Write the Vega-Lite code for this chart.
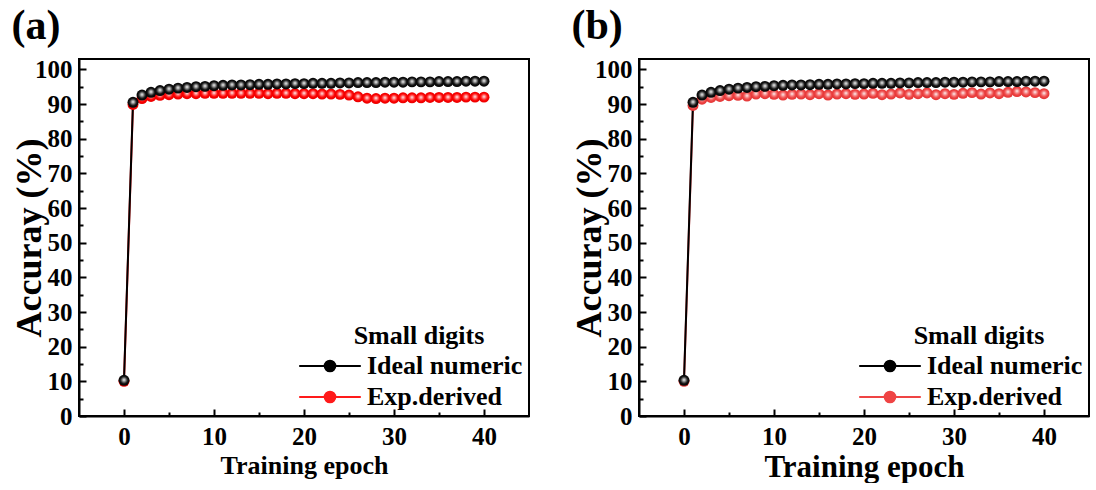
{
  "$schema": "https://vega.github.io/schema/vega-lite/v6.json",
  "background": "white",
  "padding": {"left": 10, "top": 4, "right": 0, "bottom": 0},
  "spacing": 40,
  "datasets": {
    "a": [
      {"epoch": 0, "series": "Exp.derived", "acc": 10.0},
      {"epoch": 1, "series": "Exp.derived", "acc": 89.9},
      {"epoch": 2, "series": "Exp.derived", "acc": 91.6},
      {"epoch": 3, "series": "Exp.derived", "acc": 92.2},
      {"epoch": 4, "series": "Exp.derived", "acc": 92.5},
      {"epoch": 5, "series": "Exp.derived", "acc": 92.7},
      {"epoch": 6, "series": "Exp.derived", "acc": 92.9},
      {"epoch": 7, "series": "Exp.derived", "acc": 93.0},
      {"epoch": 8, "series": "Exp.derived", "acc": 93.0},
      {"epoch": 9, "series": "Exp.derived", "acc": 93.1},
      {"epoch": 10, "series": "Exp.derived", "acc": 93.1},
      {"epoch": 11, "series": "Exp.derived", "acc": 93.1},
      {"epoch": 12, "series": "Exp.derived", "acc": 93.1},
      {"epoch": 13, "series": "Exp.derived", "acc": 93.1},
      {"epoch": 14, "series": "Exp.derived", "acc": 93.1},
      {"epoch": 15, "series": "Exp.derived", "acc": 93.1},
      {"epoch": 16, "series": "Exp.derived", "acc": 93.0},
      {"epoch": 17, "series": "Exp.derived", "acc": 93.1},
      {"epoch": 18, "series": "Exp.derived", "acc": 93.1},
      {"epoch": 19, "series": "Exp.derived", "acc": 93.0},
      {"epoch": 20, "series": "Exp.derived", "acc": 93.0},
      {"epoch": 21, "series": "Exp.derived", "acc": 93.0},
      {"epoch": 22, "series": "Exp.derived", "acc": 92.9},
      {"epoch": 23, "series": "Exp.derived", "acc": 92.9},
      {"epoch": 24, "series": "Exp.derived", "acc": 92.8},
      {"epoch": 25, "series": "Exp.derived", "acc": 92.6},
      {"epoch": 26, "series": "Exp.derived", "acc": 92.1},
      {"epoch": 27, "series": "Exp.derived", "acc": 91.7},
      {"epoch": 28, "series": "Exp.derived", "acc": 91.6},
      {"epoch": 29, "series": "Exp.derived", "acc": 91.7},
      {"epoch": 30, "series": "Exp.derived", "acc": 91.7},
      {"epoch": 31, "series": "Exp.derived", "acc": 91.8},
      {"epoch": 32, "series": "Exp.derived", "acc": 91.8},
      {"epoch": 33, "series": "Exp.derived", "acc": 91.8},
      {"epoch": 34, "series": "Exp.derived", "acc": 91.9},
      {"epoch": 35, "series": "Exp.derived", "acc": 91.9},
      {"epoch": 36, "series": "Exp.derived", "acc": 91.9},
      {"epoch": 37, "series": "Exp.derived", "acc": 91.9},
      {"epoch": 38, "series": "Exp.derived", "acc": 92.0},
      {"epoch": 39, "series": "Exp.derived", "acc": 92.0},
      {"epoch": 40, "series": "Exp.derived", "acc": 92.0},
      {"epoch": 0, "series": "Ideal numeric", "acc": 10.3},
      {"epoch": 1, "series": "Ideal numeric", "acc": 90.5},
      {"epoch": 2, "series": "Ideal numeric", "acc": 92.6},
      {"epoch": 3, "series": "Ideal numeric", "acc": 93.4},
      {"epoch": 4, "series": "Ideal numeric", "acc": 93.9},
      {"epoch": 5, "series": "Ideal numeric", "acc": 94.3},
      {"epoch": 6, "series": "Ideal numeric", "acc": 94.6},
      {"epoch": 7, "series": "Ideal numeric", "acc": 94.8},
      {"epoch": 8, "series": "Ideal numeric", "acc": 95.0},
      {"epoch": 9, "series": "Ideal numeric", "acc": 95.1},
      {"epoch": 10, "series": "Ideal numeric", "acc": 95.3},
      {"epoch": 11, "series": "Ideal numeric", "acc": 95.4},
      {"epoch": 12, "series": "Ideal numeric", "acc": 95.5},
      {"epoch": 13, "series": "Ideal numeric", "acc": 95.5},
      {"epoch": 14, "series": "Ideal numeric", "acc": 95.6},
      {"epoch": 15, "series": "Ideal numeric", "acc": 95.7},
      {"epoch": 16, "series": "Ideal numeric", "acc": 95.7},
      {"epoch": 17, "series": "Ideal numeric", "acc": 95.8},
      {"epoch": 18, "series": "Ideal numeric", "acc": 95.8},
      {"epoch": 19, "series": "Ideal numeric", "acc": 95.9},
      {"epoch": 20, "series": "Ideal numeric", "acc": 95.9},
      {"epoch": 21, "series": "Ideal numeric", "acc": 96.0},
      {"epoch": 22, "series": "Ideal numeric", "acc": 96.0},
      {"epoch": 23, "series": "Ideal numeric", "acc": 96.0},
      {"epoch": 24, "series": "Ideal numeric", "acc": 96.1},
      {"epoch": 25, "series": "Ideal numeric", "acc": 96.1},
      {"epoch": 26, "series": "Ideal numeric", "acc": 96.2},
      {"epoch": 27, "series": "Ideal numeric", "acc": 96.2},
      {"epoch": 28, "series": "Ideal numeric", "acc": 96.2},
      {"epoch": 29, "series": "Ideal numeric", "acc": 96.3},
      {"epoch": 30, "series": "Ideal numeric", "acc": 96.3},
      {"epoch": 31, "series": "Ideal numeric", "acc": 96.3},
      {"epoch": 32, "series": "Ideal numeric", "acc": 96.4},
      {"epoch": 33, "series": "Ideal numeric", "acc": 96.4},
      {"epoch": 34, "series": "Ideal numeric", "acc": 96.4},
      {"epoch": 35, "series": "Ideal numeric", "acc": 96.5},
      {"epoch": 36, "series": "Ideal numeric", "acc": 96.5},
      {"epoch": 37, "series": "Ideal numeric", "acc": 96.5},
      {"epoch": 38, "series": "Ideal numeric", "acc": 96.6},
      {"epoch": 39, "series": "Ideal numeric", "acc": 96.6},
      {"epoch": 40, "series": "Ideal numeric", "acc": 96.6}
    ],
    "b": [
      {"epoch": 0, "series": "Exp.derived", "acc": 10.0},
      {"epoch": 1, "series": "Exp.derived", "acc": 89.6},
      {"epoch": 2, "series": "Exp.derived", "acc": 91.4},
      {"epoch": 3, "series": "Exp.derived", "acc": 91.9},
      {"epoch": 4, "series": "Exp.derived", "acc": 92.2},
      {"epoch": 5, "series": "Exp.derived", "acc": 92.4},
      {"epoch": 6, "series": "Exp.derived", "acc": 92.5},
      {"epoch": 7, "series": "Exp.derived", "acc": 92.3},
      {"epoch": 8, "series": "Exp.derived", "acc": 92.9},
      {"epoch": 9, "series": "Exp.derived", "acc": 93.0},
      {"epoch": 10, "series": "Exp.derived", "acc": 92.8},
      {"epoch": 11, "series": "Exp.derived", "acc": 92.6},
      {"epoch": 12, "series": "Exp.derived", "acc": 92.8},
      {"epoch": 13, "series": "Exp.derived", "acc": 92.9},
      {"epoch": 14, "series": "Exp.derived", "acc": 92.7},
      {"epoch": 15, "series": "Exp.derived", "acc": 93.0},
      {"epoch": 16, "series": "Exp.derived", "acc": 92.6},
      {"epoch": 17, "series": "Exp.derived", "acc": 92.9},
      {"epoch": 18, "series": "Exp.derived", "acc": 93.0},
      {"epoch": 19, "series": "Exp.derived", "acc": 92.8},
      {"epoch": 20, "series": "Exp.derived", "acc": 92.9},
      {"epoch": 21, "series": "Exp.derived", "acc": 93.1},
      {"epoch": 22, "series": "Exp.derived", "acc": 92.7},
      {"epoch": 23, "series": "Exp.derived", "acc": 92.9},
      {"epoch": 24, "series": "Exp.derived", "acc": 93.2},
      {"epoch": 25, "series": "Exp.derived", "acc": 92.8},
      {"epoch": 26, "series": "Exp.derived", "acc": 93.0},
      {"epoch": 27, "series": "Exp.derived", "acc": 93.2},
      {"epoch": 28, "series": "Exp.derived", "acc": 92.7},
      {"epoch": 29, "series": "Exp.derived", "acc": 93.0},
      {"epoch": 30, "series": "Exp.derived", "acc": 92.8},
      {"epoch": 31, "series": "Exp.derived", "acc": 93.1},
      {"epoch": 32, "series": "Exp.derived", "acc": 93.3},
      {"epoch": 33, "series": "Exp.derived", "acc": 92.9},
      {"epoch": 34, "series": "Exp.derived", "acc": 93.2},
      {"epoch": 35, "series": "Exp.derived", "acc": 93.0},
      {"epoch": 36, "series": "Exp.derived", "acc": 93.4},
      {"epoch": 37, "series": "Exp.derived", "acc": 93.6},
      {"epoch": 38, "series": "Exp.derived", "acc": 93.5},
      {"epoch": 39, "series": "Exp.derived", "acc": 93.3},
      {"epoch": 40, "series": "Exp.derived", "acc": 93.0},
      {"epoch": 0, "series": "Ideal numeric", "acc": 10.3},
      {"epoch": 1, "series": "Ideal numeric", "acc": 90.5},
      {"epoch": 2, "series": "Ideal numeric", "acc": 92.6},
      {"epoch": 3, "series": "Ideal numeric", "acc": 93.4},
      {"epoch": 4, "series": "Ideal numeric", "acc": 93.9},
      {"epoch": 5, "series": "Ideal numeric", "acc": 94.3},
      {"epoch": 6, "series": "Ideal numeric", "acc": 94.6},
      {"epoch": 7, "series": "Ideal numeric", "acc": 94.8},
      {"epoch": 8, "series": "Ideal numeric", "acc": 95.0},
      {"epoch": 9, "series": "Ideal numeric", "acc": 95.1},
      {"epoch": 10, "series": "Ideal numeric", "acc": 95.3},
      {"epoch": 11, "series": "Ideal numeric", "acc": 95.4},
      {"epoch": 12, "series": "Ideal numeric", "acc": 95.5},
      {"epoch": 13, "series": "Ideal numeric", "acc": 95.5},
      {"epoch": 14, "series": "Ideal numeric", "acc": 95.6},
      {"epoch": 15, "series": "Ideal numeric", "acc": 95.7},
      {"epoch": 16, "series": "Ideal numeric", "acc": 95.7},
      {"epoch": 17, "series": "Ideal numeric", "acc": 95.8},
      {"epoch": 18, "series": "Ideal numeric", "acc": 95.8},
      {"epoch": 19, "series": "Ideal numeric", "acc": 95.9},
      {"epoch": 20, "series": "Ideal numeric", "acc": 95.9},
      {"epoch": 21, "series": "Ideal numeric", "acc": 96.0},
      {"epoch": 22, "series": "Ideal numeric", "acc": 96.0},
      {"epoch": 23, "series": "Ideal numeric", "acc": 96.0},
      {"epoch": 24, "series": "Ideal numeric", "acc": 96.1},
      {"epoch": 25, "series": "Ideal numeric", "acc": 96.1},
      {"epoch": 26, "series": "Ideal numeric", "acc": 96.2},
      {"epoch": 27, "series": "Ideal numeric", "acc": 96.2},
      {"epoch": 28, "series": "Ideal numeric", "acc": 96.2},
      {"epoch": 29, "series": "Ideal numeric", "acc": 96.3},
      {"epoch": 30, "series": "Ideal numeric", "acc": 96.3},
      {"epoch": 31, "series": "Ideal numeric", "acc": 96.3},
      {"epoch": 32, "series": "Ideal numeric", "acc": 96.4},
      {"epoch": 33, "series": "Ideal numeric", "acc": 96.4},
      {"epoch": 34, "series": "Ideal numeric", "acc": 96.4},
      {"epoch": 35, "series": "Ideal numeric", "acc": 96.5},
      {"epoch": 36, "series": "Ideal numeric", "acc": 96.5},
      {"epoch": 37, "series": "Ideal numeric", "acc": 96.5},
      {"epoch": 38, "series": "Ideal numeric", "acc": 96.6},
      {"epoch": 39, "series": "Ideal numeric", "acc": 96.6},
      {"epoch": 40, "series": "Ideal numeric", "acc": 96.6}
    ]
  },
  "hconcat": [
    {
      "width": 450,
      "height": 357,
      "title": {"text": "(a)", "anchor": "start", "frame": "bounds", "fontSize": 42, "offset": 9},
      "data": {"name": "a"},
      "encoding": {
        "x": {
          "field": "epoch", "type": "quantitative",
          "scale": {"domain": [-5, 45], "nice": false, "zero": false},
          "axis": {
            "values": [0, 5, 10, 15, 20, 25, 30, 35, 40],
            "labelExpr": "datum.value % 10 === 0 ? datum.label : ''",
            "tickSize": {"condition": {"test": "datum.value % 10 === 0", "value": -7}, "value": -4},
            "labelPadding": 15,
            "title": "Training epoch", "titleFontSize": 26, "titlePadding": 3
          }
        },
        "y": {
          "field": "acc", "type": "quantitative",
          "scale": {"domain": [0, 103], "nice": false},
          "axis": {
            "values": [0, 5, 10, 15, 20, 25, 30, 35, 40, 45, 50, 55, 60, 65, 70, 75, 80, 85, 90, 95, 100],
            "labelExpr": "datum.value % 10 === 0 ? datum.label : ''",
            "tickSize": {"condition": {"test": "datum.value % 10 === 0", "value": -7}, "value": -4},
            "labelPadding": 14,
            "title": "Accuray (%)", "titleFontSize": 36, "titlePadding": -14
          }
        }
      },
      "layer": [
        {
          "mark": {"type": "line", "strokeWidth": 2},
          "encoding": {
            "color": {
              "field": "series", "type": "nominal",
              "scale": {"domain": ["Ideal numeric", "Exp.derived"], "range": ["#000000", "#ff1a1a"]},
              "legend": {
                "title": "Small digits",
                "orient": "bottom-right", "offset": 6, "padding": 0,
                "titleAnchor": "middle", "titlePadding": 2,
                "symbolType": "M-2.2,0H-0.38M0.38,0H2.2M0.38,0A0.38,0.38 0 1 1 -0.38,0A0.38,0.38 0 1 1 0.38,0Z",
                "symbolSize": 784, "symbolStrokeWidth": 2,
                "labelOffset": 22, "rowPadding": 3,
                "encode": {"symbols": {"update": {"fill": {"signal": "datum.value === 'Ideal numeric' ? '#000000' : '#ff1a1a'"}}}}
              }
            }
          }
        },
        {
          "transform": [{"filter": "datum.series === 'Exp.derived'"}],
          "mark": {
            "type": "point", "filled": true, "size": 120, "opacity": 1, "strokeWidth": 0,
            "fill": {"gradient": "radial", "x1": 0.5, "y1": 0.45, "r1": 0, "x2": 0.5, "y2": 0.5, "r2": 0.55,
              "stops": [{"offset": 0, "color": "#ffffff"}, {"offset": 0.3, "color": "#ff7070"}, {"offset": 0.6, "color": "#ff0000"}, {"offset": 1, "color": "#e00000"}]}
          }
        },
        {
          "transform": [{"filter": "datum.series === 'Ideal numeric'"}],
          "mark": {
            "type": "point", "filled": true, "size": 120, "opacity": 1, "strokeWidth": 0,
            "fill": {"gradient": "radial", "x1": 0.5, "y1": 0.45, "r1": 0, "x2": 0.5, "y2": 0.5, "r2": 0.55,
              "stops": [{"offset": 0, "color": "#ffffff"}, {"offset": 0.3, "color": "#8a8a8a"}, {"offset": 0.6, "color": "#111111"}, {"offset": 1, "color": "#000000"}]}
          }
        }
      ]
    },
    {
      "width": 450,
      "height": 357,
      "title": {"text": "(b)", "anchor": "start", "frame": "bounds", "fontSize": 42, "offset": 9},
      "data": {"name": "b"},
      "encoding": {
        "x": {
          "field": "epoch", "type": "quantitative",
          "scale": {"domain": [-5, 45], "nice": false, "zero": false},
          "axis": {
            "values": [0, 5, 10, 15, 20, 25, 30, 35, 40],
            "labelExpr": "datum.value % 10 === 0 ? datum.label : ''",
            "tickSize": {"condition": {"test": "datum.value % 10 === 0", "value": -7}, "value": -4},
            "labelPadding": 15,
            "title": "Training epoch", "titleFontSize": 31, "titlePadding": 3
          }
        },
        "y": {
          "field": "acc", "type": "quantitative",
          "scale": {"domain": [0, 103], "nice": false},
          "axis": {
            "values": [0, 5, 10, 15, 20, 25, 30, 35, 40, 45, 50, 55, 60, 65, 70, 75, 80, 85, 90, 95, 100],
            "labelExpr": "datum.value % 10 === 0 ? datum.label : ''",
            "tickSize": {"condition": {"test": "datum.value % 10 === 0", "value": -7}, "value": -4},
            "labelPadding": 14,
            "title": "Accuray (%)", "titleFontSize": 36, "titlePadding": -14
          }
        }
      },
      "layer": [
        {
          "mark": {"type": "line", "strokeWidth": 2},
          "encoding": {
            "color": {
              "field": "series", "type": "nominal",
              "scale": {"domain": ["Ideal numeric", "Exp.derived"], "range": ["#000000", "#ef4444"]},
              "legend": {
                "title": "Small digits",
                "orient": "bottom-right", "offset": 6, "padding": 0,
                "titleAnchor": "middle", "titlePadding": 2,
                "symbolType": "M-2.2,0H-0.38M0.38,0H2.2M0.38,0A0.38,0.38 0 1 1 -0.38,0A0.38,0.38 0 1 1 0.38,0Z",
                "symbolSize": 784, "symbolStrokeWidth": 2,
                "labelOffset": 22, "rowPadding": 3,
                "encode": {"symbols": {"update": {"fill": {"signal": "datum.value === 'Ideal numeric' ? '#000000' : '#ef4444'"}}}}
              }
            }
          }
        },
        {
          "transform": [{"filter": "datum.series === 'Exp.derived'"}],
          "mark": {
            "type": "point", "filled": true, "size": 120, "opacity": 1, "strokeWidth": 0,
            "fill": {"gradient": "radial", "x1": 0.5, "y1": 0.45, "r1": 0, "x2": 0.5, "y2": 0.5, "r2": 0.55,
              "stops": [{"offset": 0, "color": "#ffffff"}, {"offset": 0.3, "color": "#f59090"}, {"offset": 0.6, "color": "#ef4444"}, {"offset": 1, "color": "#de3030"}]}
          }
        },
        {
          "transform": [{"filter": "datum.series === 'Ideal numeric'"}],
          "mark": {
            "type": "point", "filled": true, "size": 120, "opacity": 1, "strokeWidth": 0,
            "fill": {"gradient": "radial", "x1": 0.5, "y1": 0.45, "r1": 0, "x2": 0.5, "y2": 0.5, "r2": 0.55,
              "stops": [{"offset": 0, "color": "#ffffff"}, {"offset": 0.3, "color": "#8a8a8a"}, {"offset": 0.6, "color": "#111111"}, {"offset": 1, "color": "#000000"}]}
          }
        }
      ]
    }
  ],
  "resolve": {"scale": {"color": "independent"}, "legend": {"color": "independent"}},
  "config": {
    "font": "Liberation Serif",
    "view": {"stroke": "#000000", "strokeWidth": 2},
    "title": {"font": "Liberation Serif", "fontWeight": "bold", "color": "#000000"},
    "axis": {
      "grid": false,
      "domainColor": "#000000", "domainWidth": 2,
      "tickColor": "#000000", "tickWidth": 2,
      "labelFont": "Liberation Serif", "labelFontWeight": "bold", "labelFontSize": 25, "labelColor": "#000000",
      "titleFont": "Liberation Serif", "titleFontWeight": "bold", "titleColor": "#000000"
    },
    "legend": {
      "titleFont": "Liberation Serif", "titleFontWeight": "bold", "titleFontSize": 26, "titleColor": "#000000",
      "labelFont": "Liberation Serif", "labelFontWeight": "bold", "labelFontSize": 26, "labelColor": "#000000"
    }
  }
}
